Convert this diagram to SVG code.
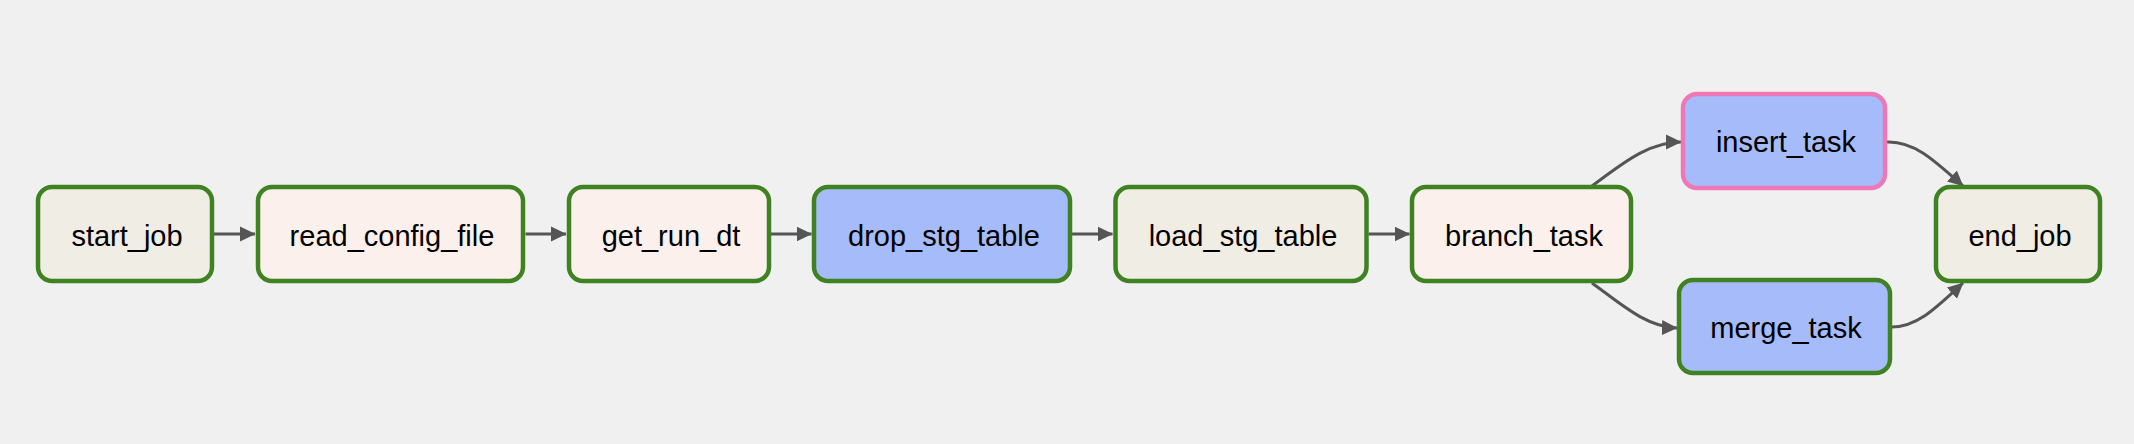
<svg xmlns="http://www.w3.org/2000/svg" width="2134" height="444" viewBox="0 0 2134 444">
<defs>
<marker id="arr" markerUnits="userSpaceOnUse" markerWidth="16" markerHeight="16" viewBox="0 0 16 16" refX="15" refY="8" orient="auto">
<path d="M0,0.5 L15.5,8 L0,15.5 Z" fill="#555555"/>
</marker>
<style>
.node rect{stroke-width:4.5}
.ok{stroke:#3f8221}
.skip{stroke:#ee78b5}
.beige{fill:#f0ede4}
.peach{fill:#fbf0ec}
.blue{fill:#a6bbf9}
.node text{font-family:"Liberation Sans",Arial,Helvetica,sans-serif;font-size:29px;fill:#000;text-anchor:middle}
.edges path{fill:none;stroke:#555555;stroke-width:3;marker-end:url(#arr)}
</style>
</defs>
<rect x="0" y="0" width="2134" height="444" fill="#f0f0f0"/>
<g id="edges" class="edges">
<path d="M214,234 L255,234"/>
<path d="M525.5,234 L566,234"/>
<path d="M771,234 L811.5,234"/>
<path d="M1072,234 L1112.5,234"/>
<path d="M1368.5,234 L1409.5,234"/>
<path d="M1592,186 C1622,164 1648,142 1681,142"/>
<path d="M1592,283 C1621,304 1646,327 1677,328"/>
<path d="M1887,142 C1914,141 1934,160 1963,186"/>
<path d="M1892,327 C1918,327 1938,306 1963,283"/>
</g>
<g id="start_job" class="node"><rect class="ok beige" x="38" y="187" width="174" height="94" rx="14"/><text x="127" y="246">start_job</text></g>
<g id="read_config_file" class="node"><rect class="ok peach" x="258" y="187" width="265" height="94" rx="14"/><text x="392" y="246">read_config_file</text></g>
<g id="get_run_dt" class="node"><rect class="ok peach" x="569" y="187" width="200" height="94" rx="14"/><text x="671" y="246">get_run_dt</text></g>
<g id="drop_stg_table" class="node"><rect class="ok blue" x="814" y="187" width="256" height="94" rx="14"/><text x="944" y="246">drop_stg_table</text></g>
<g id="load_stg_table" class="node"><rect class="ok beige" x="1115.5" y="187" width="251" height="94" rx="14"/><text x="1243" y="246">load_stg_table</text></g>
<g id="branch_task" class="node"><rect class="ok peach" x="1412" y="187" width="219" height="94" rx="14"/><text x="1524" y="246">branch_task</text></g>
<g id="insert_task" class="node"><rect class="skip blue" x="1683" y="94" width="202" height="94" rx="14"/><text x="1786" y="152">insert_task</text></g>
<g id="merge_task" class="node"><rect class="ok blue" x="1679" y="280" width="211" height="93" rx="14"/><text x="1786" y="338">merge_task</text></g>
<g id="end_job" class="node"><rect class="ok beige" x="1936" y="187" width="164" height="94" rx="14"/><text x="2020" y="246">end_job</text></g>
</svg>
